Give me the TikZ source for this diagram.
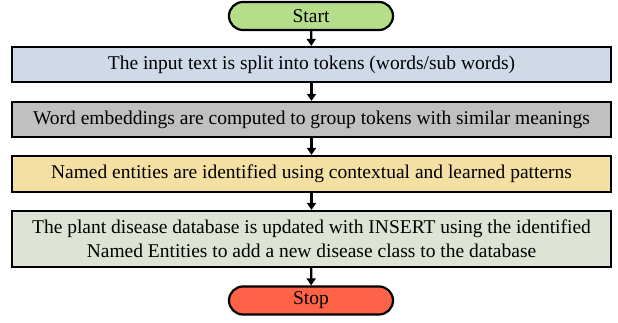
\documentclass[tikz,border=0pt]{standalone}
\usepackage{fontspec}
\setmainfont{Liberation Serif}
\usetikzlibrary{arrows.meta,shapes.misc}
\definecolor{startgreen}{HTML}{B5DD8A}
\definecolor{stepblue}{HTML}{CFD9E8}
\definecolor{stepgray}{HTML}{C0C0C0}
\definecolor{stepyellow}{HTML}{F5E0A3}
\definecolor{stepsage}{HTML}{DDE3D5}
\definecolor{stopred}{HTML}{FF6347}
\tikzset{
  x=1pt, y=1pt,
  terminal/.style={rounded rectangle, draw=black, line width=2.2pt,
    minimum width=164pt, minimum height=28pt, inner sep=0pt, font=\fontsize{19.5}{23}\selectfont},
  stepbox/.style={rectangle, draw=black, line width=2.2pt,
    minimum width=599pt, inner sep=0pt, align=center, font=\fontsize{19.5}{24}\selectfont},
  flow/.style={line width=2.2pt, -{Triangle[length=7pt,width=9pt]}}
}
\begin{document}
\begin{tikzpicture}
\useasboundingbox (0,0) rectangle (618,322);
\node[terminal, fill=startgreen] (start) at (311,306) {Start};
\node[stepbox, fill=stepblue, minimum height=35pt] (split) at (311.5,257.5)
  {The input text is split into tokens (words/sub words)};
\node[stepbox, fill=stepgray, minimum height=35pt] (embed) at (311.5,202.5)
  {Word embeddings are computed to group tokens with similar meanings};
\node[stepbox, fill=stepyellow, minimum height=36pt] (ner) at (311.5,148)
  {Named entities are identified using contextual and learned patterns};
\node[stepbox, fill=stepsage, minimum height=56pt] (db) at (311.5,83)
  {The plant disease database is updated with INSERT using the identified\\Named Entities to add a new disease class to the database};
\node[terminal, fill=stopred] (stop) at (311,21.5) {Stop};
\draw[flow] (start) -- (split);
\draw[flow] (split) -- (embed);
\draw[flow] (embed) -- (ner);
\draw[flow] (ner) -- (db);
\draw[flow] (db) -- (stop);
\end{tikzpicture}
\end{document}
